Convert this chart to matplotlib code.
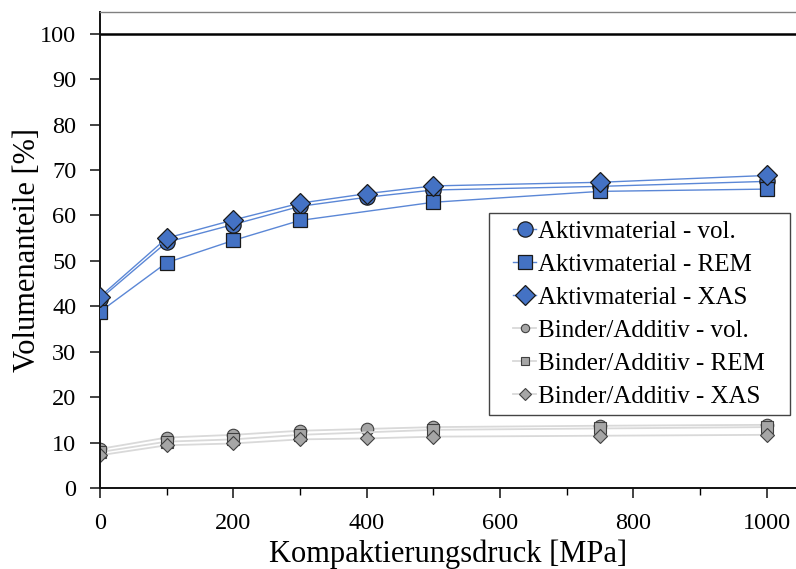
import numpy as np
import matplotlib.pyplot as plt
from matplotlib.ticker import MultipleLocator
from matplotlib.patches import Rectangle

plt.rcParams['font.family'] = ['Liberation Serif', 'DejaVu Serif']

# compaction pressure in MPa
druck = [0, 100, 200, 300, 400, 500, 750, 1000]
druck_rem = [0, 100, 200, 300, 500, 750, 1000]   # no REM measurement at 400

aktiv_vol = [41.6, 54.1, 58.0, 62.0, 64.0, 65.6, 66.4, 67.5]
aktiv_rem = [38.8, 49.6, 54.5, 58.9, 62.9, 65.3, 65.8]
aktiv_xas = [42.1, 55.0, 59.0, 62.7, 64.8, 66.5, 67.3, 68.8]

binder_vol = [8.6, 11.1, 11.7, 12.6, 13.0, 13.4, 13.7, 13.9]
binder_rem = [7.9, 10.2, 10.7, 11.7, 12.8, 13.1, 13.4]
binder_xas = [7.2, 9.4, 9.8, 10.7, 10.9, 11.3, 11.5, 11.7]

blue = '#4472C4'
blue_line = '#5B87D6'
grey = '#A6A6A6'
grey_line = '#D9D9D9'

fig = plt.figure(figsize=(7.96, 5.69), dpi=100)
ax = fig.add_axes([0.1256, 0.1424, 0.8744, 0.8366])

ax.axhline(100, color='black', lw=1.8, zorder=1)

ax.plot(druck, binder_vol, '-o', color=grey_line, lw=1.3, mfc=grey, mec='#404040',
        mew=0.8, ms=9, label='Binder/Additiv - vol.', zorder=2)
ax.plot(druck_rem, binder_rem, '-s', color=grey_line, lw=1.3, mfc=grey, mec='#404040',
        mew=0.8, ms=8, label='Binder/Additiv - REM', zorder=2)
ax.plot(druck, binder_xas, '-D', color=grey_line, lw=1.3, mfc=grey, mec='#404040',
        mew=0.8, ms=7, label='Binder/Additiv - XAS', zorder=2)

ax.plot(druck, aktiv_vol, '-o', color=blue_line, lw=1.0, mfc=blue, mec='#1a1a1a',
        mew=0.9, ms=11, label='Aktivmaterial - vol.', zorder=3)
ax.plot(druck_rem, aktiv_rem, '-s', color=blue_line, lw=1.0, mfc=blue, mec='#1a1a1a',
        mew=0.9, ms=10.5, label='Aktivmaterial - REM', zorder=3)
ax.plot(druck, aktiv_xas, '-D', color=blue_line, lw=1.0, mfc=blue, mec='#1a1a1a',
        mew=0.9, ms=10, label='Aktivmaterial - XAS', zorder=3)

ax.set_xlim(0, 1044)
ax.set_ylim(0, 104.8)
ax.xaxis.set_major_locator(MultipleLocator(200))
ax.xaxis.set_minor_locator(MultipleLocator(100))
ax.yaxis.set_major_locator(MultipleLocator(10))
ax.tick_params(axis='both', which='major', direction='out', length=7, width=1.2,
               labelsize=17.5, color='#222222')
ax.tick_params(axis='x', which='minor', direction='out', length=5, width=1.0)
ax.tick_params(axis='x', pad=11)
ax.tick_params(axis='y', pad=10)

ax.spines['right'].set_visible(False)
ax.spines['top'].set_color('#808080')
ax.spines['top'].set_linewidth(1.0)
for s in ('left', 'bottom'):
    ax.spines[s].set_linewidth(1.4)
    ax.spines[s].set_color('#111111')

ax.set_xlabel('Kompaktierungsdruck [MPa]', fontsize=22, labelpad=4)
ax.set_ylabel('Volumenanteile [%]', fontsize=22, labelpad=-1)

handles, labels = ax.get_legend_handles_labels()
order = [3, 4, 5, 0, 1, 2]
leg = ax.legend([handles[i] for i in order], [labels[i] for i in order],
                loc='upper left', bbox_to_anchor=(0.583, 0.578), fontsize=18,
                frameon=False, borderaxespad=0,
                handlelength=0.9, handletextpad=0.1, labelspacing=0.42,
                borderpad=0.3)
leg.set_zorder(6)
# blue markers stay full size in the legend, grey ones are drawn smaller
for i, h in enumerate(leg.legend_handles):
    if i >= 3:
        h.set_markersize(6)

# legend frame with wider horizontal padding than matplotlib allows
fig.canvas.draw()
bb = leg.get_window_extent()
extra = 17
frame = Rectangle((bb.x0 - extra, bb.y0), bb.width + 2 * extra, bb.height,
                  transform=None, facecolor='white', edgecolor='#444444',
                  linewidth=1.0, zorder=5, clip_on=False)
ax.add_patch(frame)

fig.savefig('out.png', dpi=100)
